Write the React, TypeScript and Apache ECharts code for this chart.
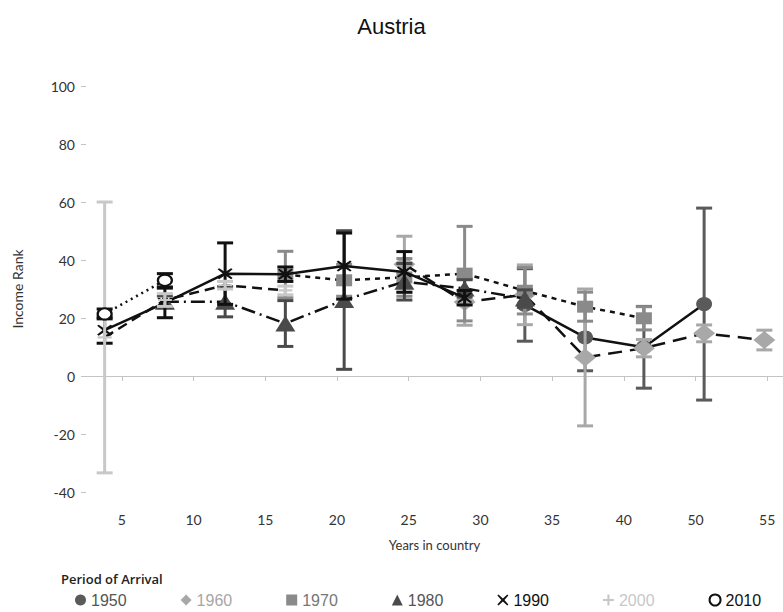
import React, { useEffect, useRef } from 'react';
import * as echarts from 'echarts';

// ---- data ----
const periods = ['1950', '1960', '1970', '1980', '1990', '2000', '2010'];
// x position of each measurement slot (axis units of the reference)
const xPositions = [3.8, 8.0, 12.2, 16.4, 20.5, 24.7, 28.9, 33.1, 37.3, 41.4, 45.6, 49.8];
const xTickValues = [5, 10, 15, 20, 25, 30, 35, 40, 45, 50];
const xTickLabels = ['5', '10', '15', '20', '25', '30', '35', '40', '50', '55'];

const N = null;
const rank1950 = [N, N, N, N, N, N, N, 24.5, 13.3, 9.9, 24.8, N];
const err1950 = [N, N, N, N, N, N, N, 12.5, 11.5, 14.1, 33.1, N];
const rank1960 = [N, N, N, N, N, 38.5, 25.5, 28.0, 6.4, 9.6, 14.7, 12.4];
const err1960 = [N, N, N, N, N, 9.7, 8.0, 10.3, 23.6, 3.0, 2.9, 3.4];
const rank1970 = [N, N, N, 35.0, 33.0, 34.0, 35.3, 29.4, 23.9, 19.9, N, N];
const err1970 = [N, N, N, 8.0, 5.5, 6.5, 16.3, 8.0, 5.0, 4.0, N, N];
const rank1980 = [N, 25.6, 25.6, 18.1, 26.2, 32.5, 30.2, 26.7, N, N, N, N];
const err1980 = [N, 2.0, 5.2, 7.9, 23.9, 6.3, 3.0, 3.0, N, N, N, N];
const rank1990 = [15.8, 25.2, 35.3, 35.1, 37.9, 35.9, 27.0, N, N, N, N, N];
const err1990 = [4.5, 5.1, 10.6, 2.5, 11.4, 7.0, 2.5, N, N, N, N, N];
const rank2000 = [13.3, 26.2, 31.3, 29.5, N, N, N, N, N, N, N, N];
const err2000 = [46.7, 2.2, 1.3, 1.5, N, N, N, N, N, N, N, N];
const rank2010 = [21.4, 33.0, N, N, N, N, N, N, N, N, N, N];
const err2010 = [1.7, 2.3, N, N, N, N, N, N, N, N, N, N];

const ranks = [rank1950, rank1960, rank1970, rank1980, rank1990, rank2000, rank2010];
const errs = [err1950, err1960, err1970, err1980, err1990, err2000, err2010];

// ---- styles ----
const X_PATH = 'path://M1,0L5,3.6L9,0L10,1L6.4,5L10,9L9,10L5,6.4L1,10L0,9L3.6,5L0,1Z';
const PLUS_PATH = 'path://M4,0H6V4H10V6H6V10H4V6H0V4H4Z';

const styles: any[] = [
  { color: '#5a5a5a', text: '#555555', symbol: 'circle', size: [16, 14], dash: 'solid', border: 0 },
  { color: '#a8a8a8', text: '#a6a6a6', symbol: 'diamond', size: [22, 18], dash: [14, 8], border: 0 },
  { color: '#8a8a8a', text: '#777777', symbol: 'rect', size: [16, 12], dash: [5, 5], border: 0 },
  { color: '#4a4a4a', text: '#555555', symbol: 'triangle', size: [20, 16], dash: [14, 5, 2, 5], border: 0 },
  { color: '#111111', text: '#111111', symbol: X_PATH, size: [15, 11], dash: 'solid', border: 0 },
  { color: '#c8c8c8', text: '#c8c8c8', symbol: PLUS_PATH, size: [14, 11], dash: [10, 6], border: 0 },
  { color: '#111111', text: '#111111', symbol: 'emptyCircle', size: [14, 11], dash: [2, 4], border: 2.5 },
];

export default function App() {
  const ref = useRef<HTMLDivElement>(null);
  useEffect(() => {
    if (!ref.current) return;
    const chart = echarts.init(ref.current, null, { renderer: 'svg' });
    const series: any[] = [];
    periods.forEach((p, i) => {
      const st = styles[i];
      const errData = xPositions
        .map((x, k) =>
          ranks[i][k] == null
            ? null
            : [x, (ranks[i][k] as number) - (errs[i][k] as number), (ranks[i][k] as number) + (errs[i][k] as number)]
        )
        .filter((d) => d != null);
      const lineData = xPositions
        .map((x, k) => (ranks[i][k] == null ? null : [x, ranks[i][k]]))
        .filter((d) => d != null);
      series.push({
        name: p + ' error',
        type: 'custom',
        z: 2 + i * 2,
        silent: true,
        encode: { x: 0, y: [1, 2] },
        data: errData,
        renderItem: (params: any, api: any) => {
          const x = api.value(0);
          const top = api.coord([x, api.value(2)]);
          const bot = api.coord([x, api.value(1)]);
          const hw = 8;
          const s = { stroke: st.color, lineWidth: 3 };
          return {
            type: 'group',
            children: [
              { type: 'line', shape: { x1: top[0], y1: top[1], x2: bot[0], y2: bot[1] }, style: s },
              { type: 'line', shape: { x1: top[0] - hw, y1: top[1], x2: top[0] + hw, y2: top[1] }, style: s },
              { type: 'line', shape: { x1: bot[0] - hw, y1: bot[1], x2: bot[0] + hw, y2: bot[1] }, style: s },
            ],
          };
        },
      });
      const itemStyle: any = { color: st.color };
      if (st.border) itemStyle.borderWidth = st.border;
      series.push({
        name: p,
        type: 'line',
        z: 3 + i * 2,
        data: lineData,
        symbol: st.symbol,
        symbolSize: st.size,
        showAllSymbol: true,
        itemStyle,
        lineStyle: { color: '#111111', width: 2.5, type: st.dash },
        emphasis: { disabled: true },
      });
    });

    chart.setOption({
      animation: false,
      backgroundColor: '#ffffff',
      title: [
        {
          text: 'Austria',
          left: 'center',
          top: 10,
          textStyle: { fontFamily: 'Liberation Sans', fontSize: 22, fontWeight: 'normal', color: '#111111' },
        },
        {
          text: 'Period of Arrival',
          left: 56,
          top: 567,
          textStyle: { fontFamily: 'Open Sans', fontSize: 13, fontWeight: 600, color: '#222222' },
        },
      ],
      grid: { left: 86, right: 0, top: 86, bottom: 120, containLabel: false },
      xAxis: {
        type: 'value',
        min: 2.5,
        max: 51.1,
        name: 'Years in country',
        nameLocation: 'middle',
        nameGap: 46,
        nameTextStyle: { fontFamily: 'Lato', fontSize: 13, color: '#333333' },
        axisLine: { show: true, lineStyle: { color: '#c4c4c4', width: 1.2 } },
        axisTick: { show: true, length: 5, lineStyle: { color: '#c4c4c4' }, customValues: xTickValues },
        axisLabel: {
          customValues: xTickValues,
          margin: 20,
          fontFamily: 'Lato',
          fontSize: 14,
          color: '#333333',
          formatter: (v: number) => {
            const idx = xTickValues.indexOf(v);
            return idx >= 0 ? xTickLabels[idx] : '';
          },
        },
        splitLine: { show: false },
      },
      yAxis: {
        type: 'value',
        min: -40,
        max: 100,
        interval: 20,
        name: 'Income Rank',
        nameLocation: 'middle',
        nameGap: 62,
        nameTextStyle: { fontFamily: 'Lato', fontSize: 14, color: '#333333' },
        axisLine: { show: false },
        axisTick: { show: true, length: 5, lineStyle: { color: '#c4c4c4' } },
        axisLabel: { margin: 11, fontFamily: 'Lato', fontSize: 14, color: '#333333' },
        splitLine: { show: false },
      },
      legend: {
        left: 70,
        top: 587,
        itemWidth: 11,
        itemHeight: 11,
        itemGap: 54,
        selectedMode: false,
        textStyle: { fontFamily: 'Liberation Sans', fontSize: 16 },
        data: periods.map((p, i) => ({
          name: p,
          icon: styles[i].symbol,
          textStyle: { color: styles[i].text },
        })),
      },
      series,
    });
    return () => chart.dispose();
  }, []);
  return <div ref={ref} style={{ position: 'fixed', left: 0, top: 0, width: 783, height: 612 }} />;
}
